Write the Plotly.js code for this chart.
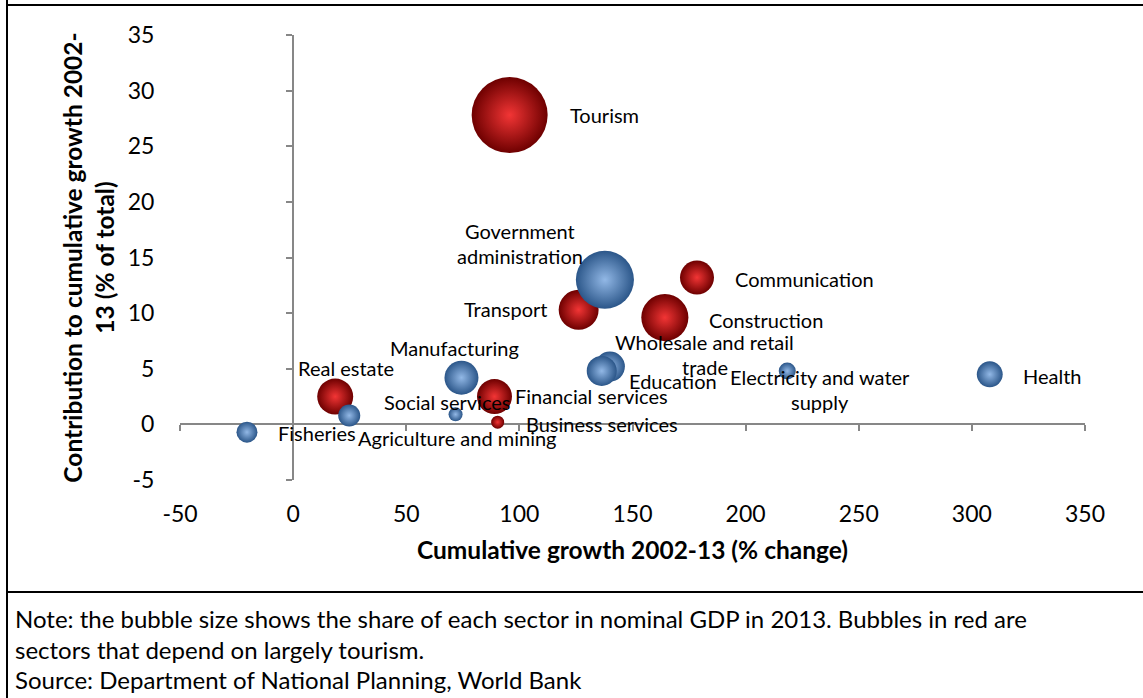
<!DOCTYPE html>
<html>
<head>
<meta charset="utf-8">
<script src="https://cdn.plot.ly/plotly-3.0.1.min.js"></script>
<style>
html,body{margin:0;padding:0;background:#fff;width:1143px;height:698px;overflow:hidden;}
#chart{position:absolute;left:0;top:0;width:1143px;height:590px;}
.hline{position:absolute;background:#000;height:2px;}
.vline{position:absolute;background:#000;width:2px;}
#notes{position:absolute;left:15px;top:604px;font-family:Lato,"Open Sans",sans-serif;font-size:24px;line-height:30.5px;color:#000;white-space:nowrap;}
</style>
</head>
<body>
<div id="chart"></div>
<div class="vline" style="left:6px;top:0;height:698px;"></div>
<div class="hline" style="left:6px;top:4px;width:1137px;"></div>
<div class="hline" style="left:6px;top:591px;width:1137px;"></div>
<div id="notes">Note: the bubble size shows the share of each sector in nominal GDP in 2013. Bubbles in red are<br>sectors that depend on largely tourism.<br>Source: Department of National Planning, World Bank</div>
<script>
// ---- data ----
const sectors = ["Tourism","Government administration","Transport","Communication","Construction",
  "Wholesale and retail trade","Education","Electricity and water supply","Health","Real estate",
  "Manufacturing","Social services","Financial services","Business services","Agriculture and mining","Fisheries"];
const labelLines = [["Tourism"],["Government","administration"],["Transport"],["Communication"],["Construction"],
  ["Wholesale and retail","trade"],["Education"],["Electricity and water","supply"],["Health"],["Real estate"],
  ["Manufacturing"],["Social services"],["Financial services"],["Business services"],["Agriculture and mining"],["Fisheries"]];
const growth       = [95.7, 137.8, 126.2, 178.5, 164.3, 140.0, 136.4, 218.4, 307.9, 18.6, 74.4, 71.8, 89.0, 90.4, 24.8, -20.4];
const contribution = [27.8, 13.0, 10.3, 13.2, 9.6, 5.2, 4.8, 4.8, 4.5, 2.5, 4.2, 0.9, 2.5, 0.2, 0.8, -0.7];
const gdpShare     = [25.0, 14.6, 6.9, 5.0, 9.6, 3.9, 3.9, 1.25, 2.9, 5.6, 5.0, 0.85, 5.3, 0.73, 2.1, 1.9];
const tourismDependent = [true,false,true,true,true,false,false,false,false,true,false,false,true,true,false,false];
const xTicks = [-50,0,50,100,150,200,250,300,350];
const yTicks = [-5,0,5,10,15,20,25,30,35];

// ---- label placement (pixel offsets from bubble centre) ----
const labelOffset = [[95,0],[-85,36],[-73,1],[108,-1],[101,-2],[95,12],[71,-10],[33,-19],[63,-2],[11,29],[-7,30],[-9,12],[97,1],[104,-2],[108,-23],[70,-1]];

const FONT = 'Lato, "Open Sans", sans-serif';
const sizeref = 2*25/(76*76);

function pick(arr, flag){ return arr.filter((_,i)=>tourismDependent[i]===flag); }

function bubbleTrace(flag, edge, centre){
  return {
    type:'scatter', mode:'markers',
    x: pick(growth, flag), y: pick(contribution, flag),
    text: pick(sectors, flag),
    hoverinfo:'text+x+y',
    marker:{ size: pick(gdpShare, flag), sizemode:'area', sizeref: sizeref,
      color: edge, gradient:{type:'radial', color: centre}, line:{width:0}, opacity:1 },
    showlegend:false
  };
}

const traces = [
  bubbleTrace(true, '#6e0000', '#f23535'),
  bubbleTrace(false, '#2b5689', '#92b8e6'),
  {type:'scatter', mode:'markers', x:[null], y:[null], xaxis:'x2', yaxis:'y2', hoverinfo:'skip', showlegend:false}
];

const annotations = [];
sectors.forEach((s,i)=>{
  const lines = labelLines[i];
  const n = lines.length;
  lines.forEach((ln,j)=>{
    annotations.push({
      x: growth[i], y: contribution[i], xref:'x', yref:'y',
      text: ln, showarrow:false, xanchor:'center', yanchor:'middle',
      xshift: labelOffset[i][0], yshift: labelOffset[i][1] + ((n-1)/2 - j)*25,
      font:{family:FONT, size:20, color:'#000'}
    });
  });
});

const axisGrey = '#878787';
const layout = {
  width:1143, height:590,
  margin:{l:180, r:58, t:35, b:110, pad:0},
  paper_bgcolor:'rgba(0,0,0,0)', plot_bgcolor:'rgba(0,0,0,0)',
  font:{family:FONT, color:'#000'},
  showlegend:false,
  xaxis:{range:[-50,350], tickvals:xTicks, ticktext:xTicks.map(String),
    showgrid:false, zeroline:false, showline:false,
    ticks:'outside', ticklen:13, tickcolor:'rgba(0,0,0,0)',
    tickfont:{family:FONT, size:23, color:'#000'},
    title:{text:'Cumulative growth 2002-13 (% change)', standoff:16,
      font:{family:FONT, size:24.5, weight:700, color:'#000'}}},
  yaxis:{range:[-5,35], tickvals:yTicks, ticktext:yTicks.map(String),
    showgrid:false, zeroline:false, showline:false,
    ticks:'outside', ticklen:20, tickcolor:'rgba(0,0,0,0)',
    tickfont:{family:FONT, size:23, color:'#000'},
    title:{text:'Contribution to cumulative growth 2002-<br>13 (% of total)', standoff:6,
      font:{family:FONT, size:24.5, weight:700, color:'#000'}}},
  xaxis2:{overlaying:'x', range:[-50,350], anchor:'free', position:0.125, side:'bottom',
    layer:'below traces', showline:true, linecolor:axisGrey, linewidth:2,
    ticks:'outside', ticklen:6, tickwidth:2, tickcolor:axisGrey, tickvals:xTicks,
    showticklabels:false, showgrid:false, zeroline:false},
  yaxis2:{overlaying:'y', range:[-5,35], anchor:'free', position:0.125, side:'left',
    layer:'below traces', showline:true, linecolor:axisGrey, linewidth:2,
    ticks:'outside', ticklen:6, tickwidth:2, tickcolor:axisGrey, tickvals:yTicks,
    showticklabels:false, showgrid:false, zeroline:false},
  annotations: annotations
};

Plotly.newPlot('chart', traces, layout, {displayModeBar:false, staticPlot:true});
</script>
</body>
</html>
